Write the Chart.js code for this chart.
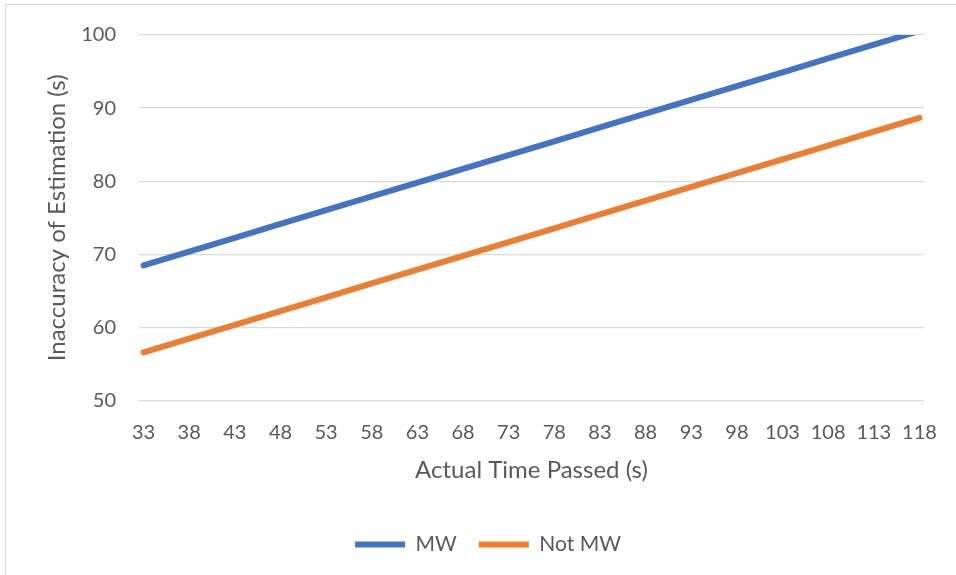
<!DOCTYPE html>
<html>
<head>
<meta charset="utf-8">
<script src="https://cdn.jsdelivr.net/npm/chart.js@4.4.1/dist/chart.umd.min.js"></script>
<style>
  html, body { margin: 0; padding: 0; background: #fff; overflow: hidden; }
  #frame { position: absolute; left: 5px; top: 4px; width: 980px; height: 600px; border: 1px solid #d9d9d9; }
  #wrap { position: absolute; left: 0; top: 0; width: 956px; height: 575px; }
</style>
</head>
<body>
<div id="frame"></div>
<div id="wrap"><canvas id="chart"></canvas></div>
<script>
  // Actual time passed (s), one category every 5 s
  const timePassed = [33, 38, 43, 48, 53, 58, 63, 68, 73, 78, 83, 88, 93, 98, 103, 108, 113, 118];
  // Inaccuracy of estimation (s)
  const mwValues = [68.5, 70.39, 72.27, 74.16, 76.04, 77.93, 79.82, 81.70, 83.59, 85.47,
                    87.36, 89.25, 91.13, 93.02, 94.90, 96.79, 98.68, 100.56];
  const notMwValues = [56.6, 58.49, 60.37, 62.26, 64.14, 66.03, 67.92, 69.80, 71.69, 73.57,
                       75.46, 77.35, 79.23, 81.12, 83.00, 84.89, 86.78, 88.66];
  const yTicks = [50, 60, 70, 80, 90, 100];

  const textColor = '#595959';
  const fontFamily = 'Lato, "Liberation Sans", sans-serif';

  function toPoints(values) {
    return values.map((v, i) => ({ x: timePassed[i], y: v }));
  }

  // the legend in the original is centred on the whole chart frame, not the plot
  const shiftLegend = {
    id: 'shiftLegend',
    afterLayout(chart) {
      chart.legend.left += 26;
      chart.legend.right += 26;
    }
  };

  Chart.defaults.font.family = fontFamily;
  Chart.defaults.color = textColor;

  const chart = new Chart(document.getElementById('chart'), {
    type: 'line',
    data: {
      datasets: [{
        label: 'MW',
        data: toPoints(mwValues),
        borderColor: '#4472C4',
        backgroundColor: '#4472C4',
        borderWidth: 6,
        borderCapStyle: 'round',
        borderJoinStyle: 'round',
        pointRadius: 0,
        tension: 0,
        clip: 0
      }, {
        label: 'Not MW',
        data: toPoints(notMwValues),
        borderColor: '#ED7D31',
        backgroundColor: '#ED7D31',
        borderWidth: 6,
        borderCapStyle: 'round',
        borderJoinStyle: 'round',
        pointRadius: 0,
        tension: 0,
        clip: 0
      }]
    },
    options: {
      responsive: true,
      maintainAspectRatio: false,
      animation: false,
      layout: {
        padding: { left: 0, right: 32, top: 33, bottom: 10 }
      },
      plugins: {
        tooltip: { enabled: false },
        legend: {
          position: 'bottom',
          labels: {
            usePointStyle: true,
            pointStyle: 'line',
            pointStyleWidth: 50,
            boxWidth: 50,
            boxHeight: 6,
            padding: 22,
            font: { size: 21 },
            color: textColor
          }
        }
      },
      scales: {
        x: {
          type: 'linear',
          min: 32.5,
          max: 118.5,
          grid: { display: false },
          border: { display: false },
          afterBuildTicks: axis => { axis.ticks = timePassed.map(v => ({ value: v })); },
          afterFit: axis => { axis.height = 111.3; },
          ticks: {
            autoSkip: false,
            maxRotation: 0,
            padding: 12,
            font: { size: 20 },
            color: textColor,
            callback: v => v
          },
          title: {
            display: true,
            text: 'Actual Time Passed (s)',
            font: { size: 24 },
            color: textColor,
            padding: { top: 0, bottom: 27.6 }
          }
        },
        y: {
          min: 50,
          max: 100,
          grid: { color: '#d9d9d9', lineWidth: 1.3, drawTicks: false },
          border: { display: false },
          afterBuildTicks: axis => { axis.ticks = yTicks.map(v => ({ value: v })); },
          afterFit: axis => { axis.width = 139; },
          ticks: {
            padding: 23,
            font: { size: 20 },
            color: textColor
          },
          title: {
            display: true,
            text: 'Inaccuracy of Estimation (s)',
            font: { size: 24 },
            color: textColor,
            padding: { top: 42.6, bottom: 0 }
          }
        }
      }
    },
    plugins: [shiftLegend]
  });
</script>
</body>
</html>
